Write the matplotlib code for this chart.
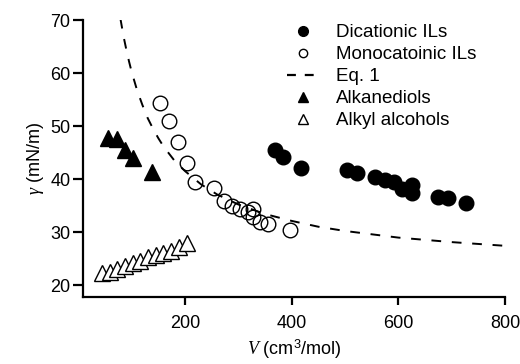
import matplotlib
matplotlib.use("Agg")
import matplotlib.pyplot as plt
from matplotlib.lines import Line2D

plt.rcParams['font.family'] = ['Liberation Sans', 'DejaVu Sans']
plt.rcParams['mathtext.fontset'] = 'custom'
plt.rcParams['mathtext.it'] = 'Liberation Serif:italic'
plt.rcParams['mathtext.rm'] = 'Liberation Sans'

# Dicationic ILs
dic_V = [369, 384, 417, 504, 522, 556, 575, 591, 606, 625, 625, 675, 694, 727]
dic_g = [45.5, 44.1, 42.1, 41.7, 41.1, 40.3, 39.9, 39.5, 38.2, 38.9, 37.3, 36.7, 36.4, 35.5]

# Monocationic ILs
mono_V = [153, 170, 186, 203, 219, 255, 273, 289, 303, 319, 327, 328, 341, 356, 396]
mono_g = [54.4, 51.0, 47.0, 43.0, 39.5, 38.3, 35.9, 34.9, 34.3, 33.8, 34.3, 32.9, 31.9, 31.6, 30.4]

# Alkanediols
diol_V = [56, 73, 88, 103, 138]
diol_g = [47.7, 47.5, 45.5, 43.9, 41.4]

# Alkyl alcohols
alc_V = [44, 59, 73, 88, 102, 116, 131, 146, 159, 173, 188, 203]
alc_g = [22.2, 22.5, 23.0, 23.5, 24.1, 24.6, 25.2, 25.7, 26.1, 26.5, 27.2, 28.0]

# Eq. 1 curve
eq_V = [79, 85, 90, 95, 100, 110, 120, 130, 140, 150, 160, 180, 200, 230, 260, 300,
        350, 400, 450, 500, 600, 700, 800]
eq_g = [70.2, 66.8, 64.4, 62.2, 60.2, 56.8, 54.0, 51.5, 49.5, 47.7, 46.1, 43.5, 41.5,
        39.0, 37.1, 35.2, 33.4, 32.1, 31.0, 30.2, 28.95, 28.1, 27.4]

x_ticks = [200, 400, 600, 800]
y_ticks = [20, 30, 40, 50, 60, 70]

fig = plt.figure(figsize=(5.2, 3.64), dpi=100)
ax = fig.add_axes([83/520, 1-296.7/364, (505-83)/520, (296.7-20)/364])

ax.plot(eq_V, eq_g, color='black', lw=1.4, dashes=(5, 5.5), zorder=1)
ax.plot(alc_V, alc_g, linestyle='none', marker='^', ms=11, mfc='white', mec='black', mew=1.0, zorder=2)
ax.plot(diol_V, diol_g, linestyle='none', marker='^', ms=11.5, mfc='black', mec='black', zorder=2)
ax.plot(mono_V, mono_g, linestyle='none', marker='o', ms=10.5, mfc='none', mec='black', mew=1.0, zorder=3)
ax.plot(dic_V, dic_g, linestyle='none', marker='o', ms=10.5, mfc='black', mec='black', zorder=3)

ax.set_xlim(8.75, 800)
ax.set_ylim(17.8, 70)
ax.set_xticks(x_ticks)
ax.set_yticks(y_ticks)
for s in ['top', 'right']:
    ax.spines[s].set_visible(False)
for s in ['left', 'bottom']:
    ax.spines[s].set_linewidth(1.6)
ax.tick_params(axis='both', direction='out', width=1.6, labelsize=13)
ax.tick_params(axis='y', length=7, pad=2)
ax.tick_params(axis='x', length=6, pad=7)

ax.set_xlabel(r'$\mathit{V}$ (cm$^3$/mol)', fontsize=13, labelpad=4)
ax.set_ylabel(r'$\mathit{\gamma}$ (mN/m)', fontsize=13, labelpad=3)

handles = [
    Line2D([], [], linestyle='none', marker='o', ms=7, mfc='black', mec='black'),
    Line2D([], [], linestyle='none', marker='o', ms=6, mfc='none', mec='black', mew=1.0),
    Line2D([], [], color='black', lw=1.6, dashes=(4, 4)),
    Line2D([], [], linestyle='none', marker='^', ms=7, mfc='black', mec='black'),
    Line2D([], [], linestyle='none', marker='^', ms=7, mfc='white', mec='black', mew=1.0),
]
labels = ['Dicationic ILs', 'Monocatoinic ILs', 'Eq. 1', 'Alkanediols', 'Alkyl alcohols']
fig.legend(handles, labels, loc='upper left', bbox_to_anchor=(287/520, 1-24/364),
           frameon=False, fontsize=13.5, handlelength=1.7, handletextpad=0.9,
           labelspacing=0.26, borderpad=0, borderaxespad=0)

fig.savefig('out.png', dpi=100)
